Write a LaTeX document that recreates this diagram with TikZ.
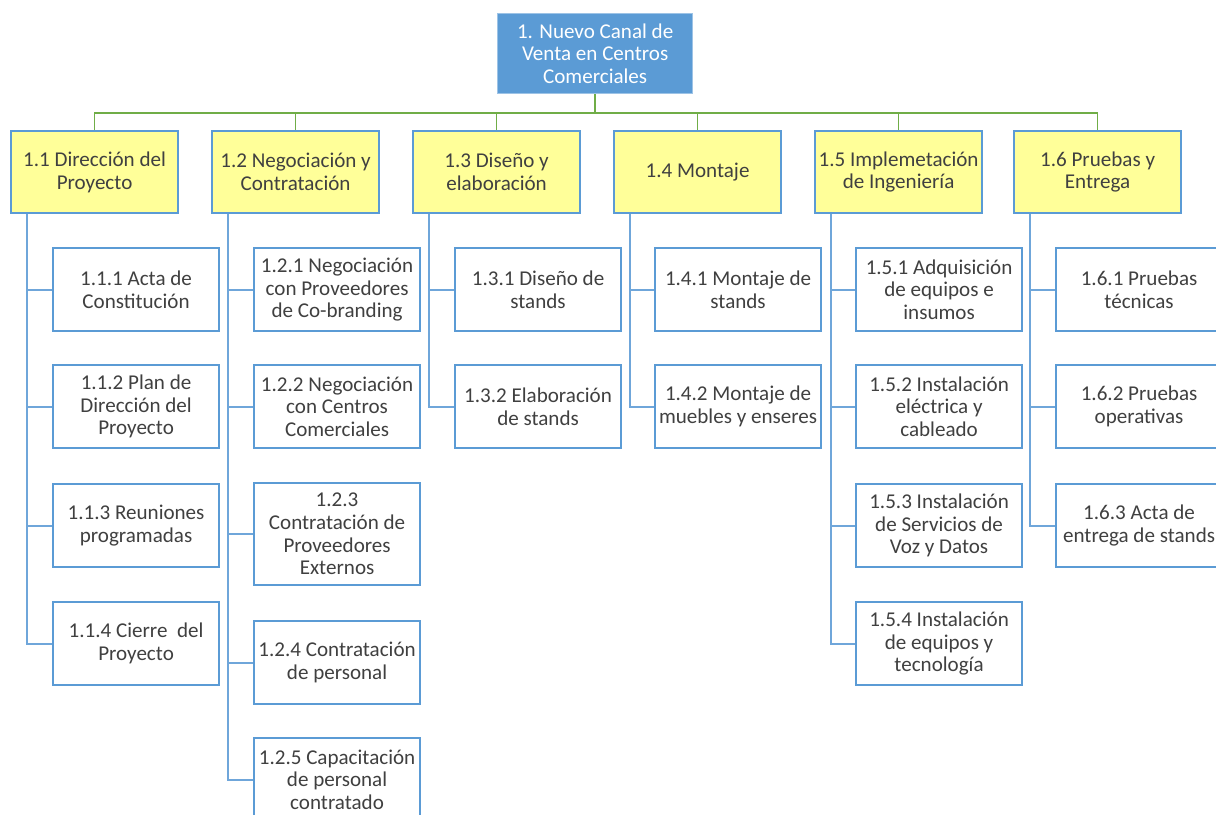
\documentclass[tikz,border=0pt]{standalone}
\usepackage{fontspec}
\setmainfont{Carlito}
\definecolor{topfill}{HTML}{5B9BD5}
\definecolor{topdraw}{HTML}{9DC3E6}
\definecolor{yel}{HTML}{FFFF99}
\definecolor{bl}{HTML}{5B9BD5}
\definecolor{spine}{HTML}{6FA6DA}
\definecolor{grn}{HTML}{70AD47}
\definecolor{txt}{HTML}{404040}
\begin{document}
\begin{tikzpicture}[x=0.75pt,y=-0.75pt,
  base/.style={rectangle,anchor=north west,align=center,inner sep=0pt,
    font=\fontsize{15.8}{17}\selectfont,text=txt},
  topbox/.style={base,fill=topfill,draw=topdraw,line width=1pt,text=white,
    minimum width=146.25pt,minimum height=60pt},
  lonebox/.style={base,fill=yel,draw=bl,line width=1.6pt,
    minimum width=125.25pt,minimum height=61.5pt},
  childbox/.style={base,fill=white,draw=bl,line width=1.6pt,
    minimum width=124.5pt,minimum height=62.25pt},
  gline/.style={draw=grn,line width=1.3pt},
  sline/.style={draw=spine,line width=1.4pt}]
\clip (0,0) rectangle (1216,814);
\useasboundingbox (0,0) rectangle (1216,814);

\node[topbox] (top) at (497,13) {1. Nuevo Canal de\\Venta en Centros\\Comerciales};

\node[lonebox] (a) at (10,130) {1.1 Dirección del\\Proyecto};
\node[lonebox] (b) at (211,130) {1.2 Negociación y\\Contratación};
\node[lonebox] (c) at (412,130) {1.3 Diseño y\\elaboración};
\node[lonebox] (d) at (613,130) {1.4 Montaje};
\node[lonebox] (e) at (814,130) {1.5 Implemetación\\de Ingeniería};
\node[lonebox] (f) at (1013,130) {1.6 Pruebas y\\Entrega};

\foreach \n in {a,b,c,d,e,f}{
  \draw[gline] (top.south) -- ++(0,19) -| (\n.north);
}

% 1.1
\node[childbox] (a1) at (52,247) {1.1.1 Acta de\\Constitución};
\node[childbox] (a2) at (52,364) {1.1.2 Plan de\\Dirección del\\Proyecto};
\node[childbox] (a3) at (52,483) {1.1.3 Reuniones\\programadas};
\node[childbox] (a4) at (52,601) {1.1.4 Cierre\ \ del\\Proyecto};
% 1.2
\node[childbox] (b1) at (253,247) {1.2.1 Negociación\\con Proveedores\\de Co-branding};
\node[childbox] (b2) at (253,364) {1.2.2 Negociación\\con Centros\\Comerciales};
\node[childbox,minimum height=76.5pt] (b3) at (253,482) {1.2.3\\Contratación de\\Proveedores\\Externos};
\node[childbox] (b4) at (253,620) {1.2.4 Contratación\\de personal};
\node[childbox] (b5) at (253,737) {1.2.5 Capacitación\\de personal\\contratado};
% 1.3
\node[childbox] (c1) at (454,247) {1.3.1 Diseño de\\stands};
\node[childbox] (c2) at (454,364) {1.3.2 Elaboración\\de stands};
% 1.4
\node[childbox] (d1) at (654,247) {1.4.1 Montaje de\\stands};
\node[childbox] (d2) at (654,364) {1.4.2 Montaje de\\muebles y enseres};
% 1.5
\node[childbox] (e1) at (855,247) {1.5.1 Adquisición\\de equipos e\\insumos};
\node[childbox] (e2) at (855,364) {1.5.2 Instalación\\eléctrica y\\cableado};
\node[childbox] (e3) at (855,483) {1.5.3 Instalación\\de Servicios de\\Voz y Datos};
\node[childbox] (e4) at (855,601) {1.5.4 Instalación\\de equipos y\\tecnología};
% 1.6
\node[childbox] (f1) at (1055,247) {1.6.1 Pruebas\\técnicas};
\node[childbox] (f2) at (1055,364) {1.6.2 Pruebas\\operativas};
\node[childbox] (f3) at (1055,483) {1.6.3 Acta de\\entrega de stands};

\foreach \p/\kids in {a/{a1,a2,a3,a4},b/{b1,b2,b3,b4,b5},c/{c1,c2},d/{d1,d2},e/{e1,e2,e3,e4},f/{f1,f2,f3}}{
  \foreach \k in \kids {
    \draw[sline] ([xshift=12.75pt]\p.south west) |- (\k.west);
  }
}
\end{tikzpicture}
\end{document}
